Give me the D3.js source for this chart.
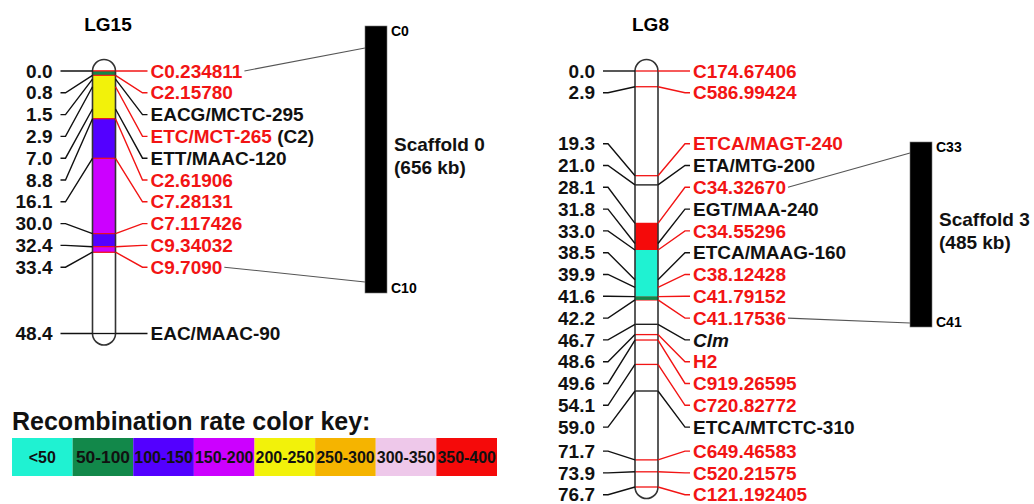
<!DOCTYPE html>
<html>
<head>
<meta charset="utf-8">
<script src="https://cdn.jsdelivr.net/npm/d3@7"></script>
<style>
  body { margin: 0; background: #fff; }
  text { font-family: Arial, "Liberation Sans", sans-serif; font-weight: bold; }
</style>
</head>
<body>
<div id="chart"></div>
<script>
// ---- data ----
const lg15Pos = [0.0, 0.8, 1.5, 2.9, 7.0, 8.8, 16.1, 30.0, 32.4, 33.4, 48.4];
const lg15Names = ["C0.234811", "C2.15780", "EACG/MCTC-295", "ETC/MCT-265", "ETT/MAAC-120",
                   "C2.61906", "C7.28131", "C7.117426", "C9.34032", "C9.7090", "EAC/MAAC-90"];
const lg15Red = [1, 1, 0, 1, 0, 1, 1, 1, 1, 1, 0];
const lg15Suffix = ["", "", "", " (C2)", "", "", "", "", "", "", ""];

const lg8Pos = [0.0, 2.9, 19.3, 21.0, 28.1, 31.8, 33.0, 38.5, 39.9, 41.6, 42.2,
                46.7, 48.6, 49.6, 54.1, 59.0, 71.7, 73.9, 76.7];
const lg8Names = ["C174.67406", "C586.99424", "ETCA/MAGT-240", "ETA/MTG-200", "C34.32670",
                  "EGT/MAA-240", "C34.55296", "ETCA/MAAG-160", "C38.12428", "C41.79152",
                  "C41.17536", "Clm", "H2", "C919.26595", "C720.82772", "ETCA/MTCTC-310",
                  "C649.46583", "C520.21575", "C121.192405"];
const lg8Red = [1, 1, 1, 0, 1, 0, 1, 0, 1, 1, 1, 0, 1, 1, 1, 0, 1, 1, 1];

// recombination-rate segments (cM start, cM end, class)
const lg15SegStart = [0.0, 0.8, 8.8, 16.1, 30.0, 32.4];
const lg15SegEnd   = [0.8, 8.8, 16.1, 30.0, 32.4, 33.4];
const lg15SegClass = ["50-100", "200-250", "100-150", "150-200", "100-150", "150-200"];

const lg8SegStart = [28.1, 33.0, 41.6];
const lg8SegEnd   = [33.0, 41.6, 42.2];
const lg8SegClass = ["350-400", "<50", "50-100"];

const rateClasses = ["<50", "50-100", "100-150", "150-200", "200-250", "250-300", "300-350", "350-400"];
const rateColors  = ["#1ff2d2", "#12884a", "#5300ff", "#cc00ff", "#f2f20a", "#f5b400", "#eec8ea", "#f50a0a"];

const scaffoldNames = ["Scaffold 0", "Scaffold 3"];
const scaffoldSizes = ["(656 kb)", "(485 kb)"];
const scaffoldEndLabels = [["C0", "C10"], ["C33", "C41"]];
const scaffoldLinks = [["C0.234811", "C9.7090"], ["C34.32670", "C41.17536"]];

// ---- setup ----
const width = 1034, height = 504;
const RED = "#f21414";
const FS = 19;
const svg = d3.select("#chart").append("svg")
  .attr("width", width).attr("height", height);

const y = d3.scaleLinear().domain([0, 76.7]).range([71, 487]);
const rateColor = d3.scaleOrdinal().domain(rateClasses).range(rateColors);
const fmt = d3.format(".1f");

// push overlapping labels apart, groups centred on their anchors
function spreadLabels(anchors, gap, minY) {
  let groups = anchors.map((a, i) => ({ ids: [i], sum: a, top: a }));
  let merged = true;
  while (merged) {
    merged = false;
    for (let i = 0; i < groups.length - 1; i++) {
      const g = groups[i], h = groups[i + 1];
      if (g.top + g.ids.length * gap > h.top) {
        const ids = g.ids.concat(h.ids);
        const sum = g.sum + h.sum;
        let top = sum / ids.length - (ids.length - 1) * gap / 2;
        top = Math.max(top, minY);
        groups.splice(i, 2, { ids, sum, top });
        merged = true;
        break;
      }
    }
  }
  const out = [];
  groups.forEach(g => g.ids.forEach((id, k) => out[id] = g.top + k * gap));
  return out;
}

const labelPos = {};

function drawLG(title, cx, pos, names, red, segStart, segEnd, segClass, segStroke, suffix) {
  const w = 23, x0 = cx - w / 2, x1 = cx + w / 2, r = w / 2;
  const g = svg.append("g");
  const anchors = pos.map(p => y(p));
  const ly = spreadLabels(anchors, 21.8, y(0));

  g.append("text").attr("x", cx + 4).attr("y", 31)
    .attr("text-anchor", "middle").attr("font-size", FS).text(title);

  const yTop = y(0), yBot = y(d3.max(pos));
  const outline = `M${x0},${yTop} A${r},${r} 0 0 1 ${x1},${yTop} L${x1},${yBot} A${r},${r} 0 0 1 ${x0},${yBot} Z`;
  g.append("path").attr("d", outline).attr("fill", "#fff");

  // cross lines on the chromosome
  g.selectAll(".cross").data(pos).enter().append("line")
    .attr("x1", x0).attr("x2", x1)
    .attr("y1", d => y(d)).attr("y2", d => y(d))
    .attr("stroke", (d, i) => red[i] ? RED : "#111").attr("stroke-width", 1.3);

  // rate segments
  g.selectAll(".seg").data(segStart).enter().append("rect")
    .attr("x", x0).attr("width", w)
    .attr("y", d => y(d))
    .attr("height", (d, i) => y(segEnd[i]) - y(d))
    .attr("fill", (d, i) => rateColor(segClass[i]))
    .attr("stroke", segStroke).attr("stroke-width", segStroke === "none" ? 0 : 1);

  g.append("path").attr("d", outline).attr("fill", "none")
    .attr("stroke", "#333").attr("stroke-width", 1.6);

  // left connectors + positions
  g.selectAll(".lc").data(pos).enter().append("polyline")
    .attr("points", (d, i) => `${x0 - 32},${ly[i]} ${x0 - 27},${ly[i]} ${x0},${anchors[i]}`)
    .attr("fill", "none").attr("stroke", "#111").attr("stroke-width", 1.4);

  g.selectAll(".pos").data(pos).enter().append("text")
    .attr("x", x0 - 40).attr("y", (d, i) => ly[i]).attr("dy", "0.35em")
    .attr("text-anchor", "end").attr("font-size", FS).attr("fill", "#111")
    .text(d => fmt(d));

  // right connectors + names
  g.selectAll(".rc").data(pos).enter().append("polyline")
    .attr("points", (d, i) => `${x1},${anchors[i]} ${x1 + 27},${ly[i]} ${x1 + 32},${ly[i]}`)
    .attr("fill", "none").attr("stroke", (d, i) => red[i] ? RED : "#111").attr("stroke-width", 1.4);

  const nm = g.selectAll(".nm").data(names).enter().append("text")
    .attr("x", x1 + 35).attr("y", (d, i) => ly[i]).attr("dy", "0.35em")
    .attr("font-size", FS)
    .attr("fill", (d, i) => red[i] ? RED : "#111")
    .attr("font-style", d => d === "Clm" ? "italic" : null)
    .text(d => d);
  nm.each(function (d, i) {
    const t = d3.select(this);
    labelPos[d] = { x: x1 + 35 + this.getComputedTextLength(), y: ly[i] };
    if (suffix && suffix[i]) {
      t.append("tspan").attr("fill", "#111").text(suffix[i]);
    }
  });
}

drawLG("LG15", 104, lg15Pos, lg15Names, lg15Red, lg15SegStart, lg15SegEnd, lg15SegClass, RED, lg15Suffix);
drawLG("LG8", 646.5, lg8Pos, lg8Names, lg8Red, lg8SegStart, lg8SegEnd, lg8SegClass, "none", null);

// ---- scaffolds ----
const scaffoldBox = [
  { x: 365, top: 26, bottom: 293, inTop: 22, inBot: 11 },
  { x: 910, top: 142, bottom: 327, inTop: 11, inBot: 4 }
];
scaffoldNames.forEach((name, i) => {
  const b = scaffoldBox[i], sw = 22;
  const g = svg.append("g");
  const [a, z] = scaffoldLinks[i];
  g.append("line")
    .attr("x1", labelPos[a].x + 2).attr("y1", labelPos[a].y)
    .attr("x2", b.x).attr("y2", b.top + b.inTop)
    .attr("stroke", "#555").attr("stroke-width", 1.1);
  g.append("line")
    .attr("x1", labelPos[z].x + 2).attr("y1", labelPos[z].y)
    .attr("x2", b.x).attr("y2", b.bottom - b.inBot)
    .attr("stroke", "#555").attr("stroke-width", 1.1);
  g.append("rect").attr("x", b.x).attr("y", b.top)
    .attr("width", sw).attr("height", b.bottom - b.top)
    .attr("fill", "#000").attr("stroke", "#777").attr("stroke-width", 0.6);
  g.append("text").attr("x", b.x + sw + 4).attr("y", b.top + 10)
    .attr("font-size", 14).text(scaffoldEndLabels[i][0]);
  g.append("text").attr("x", b.x + sw + 4).attr("y", b.bottom)
    .attr("font-size", 14).text(scaffoldEndLabels[i][1]);
  const mid = (b.top + b.bottom) / 2;
  g.append("text").attr("x", b.x + sw + 7).attr("y", mid - 9)
    .attr("font-size", FS).attr("fill", "#111").text(name);
  g.append("text").attr("x", b.x + sw + 7).attr("y", mid + 14)
    .attr("font-size", FS).attr("fill", "#111").text(scaffoldSizes[i]);
});

// ---- colour key ----
svg.append("text").attr("x", 12).attr("y", 430)
  .attr("font-size", 25).attr("fill", "#111").text("Recombination rate color key:");

const kx = d3.scaleBand().domain(rateClasses).range([12, 497]);
const key = svg.append("g").selectAll("g").data(rateClasses).enter().append("g");
key.append("rect")
  .attr("x", d => kx(d)).attr("y", 438)
  .attr("width", kx.bandwidth()).attr("height", 38)
  .attr("fill", d => rateColor(d));
key.append("text")
  .attr("x", d => kx(d) + kx.bandwidth() / 2).attr("y", 457).attr("dy", "0.36em")
  .attr("text-anchor", "middle").attr("font-size", 16).attr("fill", "#111")
  .attr("textLength", d => Math.min(kx.bandwidth() - 2, d.length * 9))
  .attr("lengthAdjust", "spacingAndGlyphs")
  .text(d => d);
</script>
</body>
</html>
